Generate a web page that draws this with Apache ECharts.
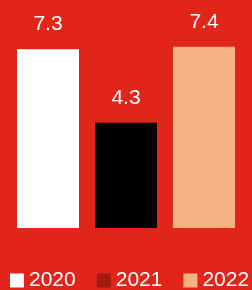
<!DOCTYPE html>
<html><head><meta charset="utf-8">
<script src="https://cdn.jsdelivr.net/npm/echarts@6/dist/echarts.min.js"></script>
<style>html,body{margin:0;padding:0;background:#e1251b}#c{width:252px;height:290px}</style>
</head><body><div id="c"></div>
<script>
var categories = ['2020', '2021', '2022'];
var values2020 = [7.3, null, null];
var values2021 = [null, 4.3, null];
var values2022 = [null, null, 7.4];
var seriesNames = ['2020', '2021', '2022'];

var barColors = ['#ffffff', '#000000', '#f4b183'];
var legendColors = ['#ffffff', '#a01c12', '#f4b183'];
var font = '"Liberation Sans", Arial, sans-serif';
var valuesList = [values2020, values2021, values2022];

var chart = echarts.init(document.getElementById('c'), null, {renderer: 'canvas'});
chart.setOption({
  backgroundColor: '#e1251b',
  animation: false,
  grid: {left: 9, right: 9, top: 32, bottom: 62},
  xAxis: {type: 'category', data: categories, show: false},
  yAxis: {type: 'value', min: 0, max: 8, show: false},
  legend: {
    left: 10, top: 270, width: 250, padding: 0,
    itemWidth: 14, itemHeight: 14, itemGap: 21,
    icon: 'rect',
    textStyle: {color: '#ffffff', fontSize: 21, fontFamily: font},
    data: seriesNames.map(function (n, i) { return {name: n, itemStyle: {color: legendColors[i]}}; })
  },
  series: seriesNames.map(function (n, i) {
    return {
      name: n, type: 'bar', stack: 'all',
      barCategoryGap: '20.5%',
      data: valuesList[i],
      itemStyle: {color: barColors[i]},
      label: {show: true, position: 'top', distance: 14, color: '#ffffff', fontSize: 21, fontFamily: font}
    };
  })
});
</script></body></html>
